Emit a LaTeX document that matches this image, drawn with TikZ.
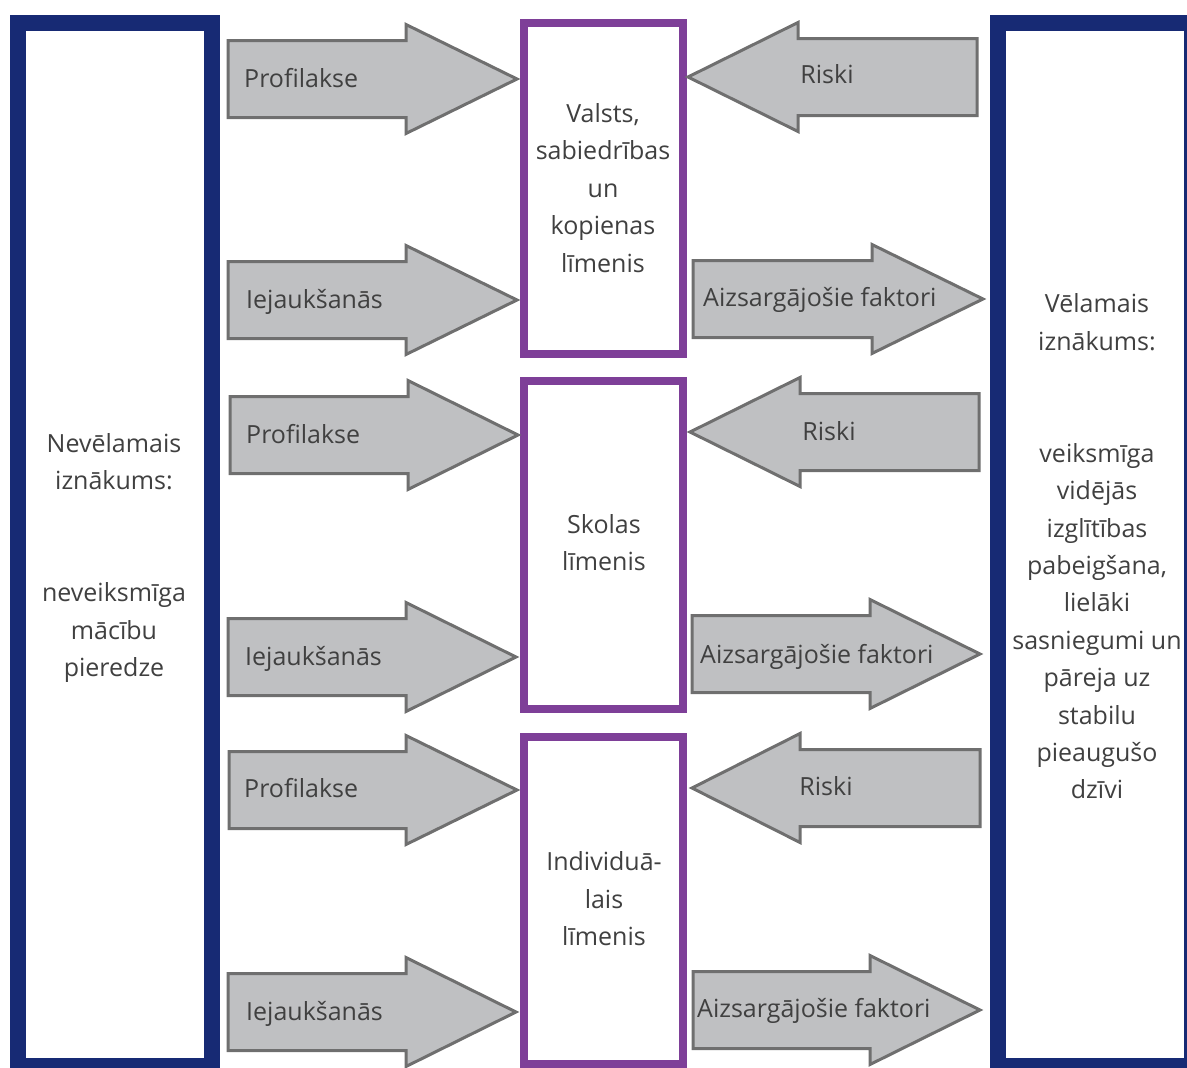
\documentclass[tikz,border=0pt]{standalone}
\usepackage{fontspec}
\setmainfont{Open Sans}
\definecolor{navy}{HTML}{172A74}
\definecolor{purp}{HTML}{7E3F98}
\definecolor{agray}{HTML}{BFC0C2}
\definecolor{aedge}{HTML}{6F6F6F}
\definecolor{txt}{HTML}{404040}
% #1 back x, #2 head-base x, #3 tip x, #4 centre y, #5 body half height, #6 head half height
\newcommand{\ArrowShape}[6]{%
  \draw[arrowshape] (#1,#4-#5) -- (#2,#4-#5) -- (#2,#4-#6) -- (#3,#4) -- (#2,#4+#6) -- (#2,#4+#5) -- (#1,#4+#5) -- cycle;}
\begin{document}
\begin{tikzpicture}[x=1pt,y=-1pt,
  arrowshape/.style={fill=agray,draw=aedge,line width=3pt,line join=miter},
  bigbox/.style={draw=navy,fill=white,line width=16pt,inner sep=0pt},
  levelbox/.style={draw=purp,fill=white,line width=7.5pt,inner sep=0pt,minimum width=159pt},
  lbl/.style={text=txt,font=\fontsize{25}{37.4}\selectfont,inner sep=0pt},
  para/.style={lbl,align=center}]
\useasboundingbox (0,0) rectangle (1187,1068);
% outcome boxes
\node[bigbox,minimum width=194pt,minimum height=1043.5pt] (left) at (115,544.25) {};
\node[bigbox,minimum width=194.5pt,minimum height=1043.5pt] (right) at (1094.75,544.25) {};
% level boxes
\node[levelbox,minimum height=331pt] (lvl1) at (603.5,188.5) {};
\node[levelbox,minimum height=328pt] (lvl2) at (603.5,545) {};
\node[levelbox,minimum height=327pt] (lvl3) at (603.5,900.5) {};
% arrows: row 1
\ArrowShape{228}{406}{517}{79}{38.5}{54.5}
\ArrowShape{228}{406}{517}{300}{38.5}{54.5}
\ArrowShape{977}{798}{688}{77}{38.5}{54.5}
\ArrowShape{693}{872}{983}{299}{38.5}{54.5}
% row 2
\ArrowShape{230}{408}{518}{435}{38.5}{54.5}
\ArrowShape{228}{406}{516}{657}{38.5}{54.5}
\ArrowShape{979}{800}{690}{432}{38.5}{54.5}
\ArrowShape{692}{870}{980}{654}{38.5}{54.5}
% row 3
\ArrowShape{229}{406}{517}{790}{38.5}{54.5}
\ArrowShape{228}{406}{516}{1012}{38.5}{54.5}
\ArrowShape{980}{800}{692}{788}{38.5}{54.5}
\ArrowShape{693}{870}{980}{1010}{38.5}{54.5}
% arrow labels
\node[lbl,anchor=mid west] (p1) at (244,85) {Profilakse};
\node[lbl,anchor=mid west] (i1) at (246,306) {Iejaukšanās};
\node[lbl] (r1) at (827,74) {Riski};
\node[lbl,anchor=mid west] (a1) at (703,304) {Aizsargājošie faktori};
\node[lbl,anchor=mid west] (p2) at (246,441) {Profilakse};
\node[lbl,anchor=mid west] (i2) at (245,663) {Iejaukšanās};
\node[lbl] (r2) at (829,431) {Riski};
\node[lbl,anchor=mid west] (a2) at (700,661) {Aizsargājošie faktori};
\node[lbl,anchor=mid west] (p3) at (244,795) {Profilakse};
\node[lbl,anchor=mid west] (i3) at (246,1018) {Iejaukšanās};
\node[lbl] (r3) at (826,786) {Riski};
\node[lbl,anchor=mid west] (a3) at (697,1015) {Aizsargājošie faktori};
% box texts
\node[para] (lefttext) at (114,558) {Nevēlamais\\iznākums:\\[74.8pt]neveiksmīga\\mācību\\pieredze};
\node[para] (righttext) at (1097,546.5) {Vēlamais\\iznākums:\\[74.8pt]veiksmīga\\vidējās\\izglītības\\pabeigšana,\\lielāki\\sasniegumi un\\pāreja uz\\stabilu\\pieaugušo\\dzīvi};
\node[para] (t1) at (603,188) {Valsts,\\sabiedrības\\un\\kopienas\\līmenis};
\node[para] (t2) at (604,542.5) {Skolas\\līmenis};
\node[para] (t3) at (604,899) {Individuā-\\lais\\līmenis};
\end{tikzpicture}
\end{document}
